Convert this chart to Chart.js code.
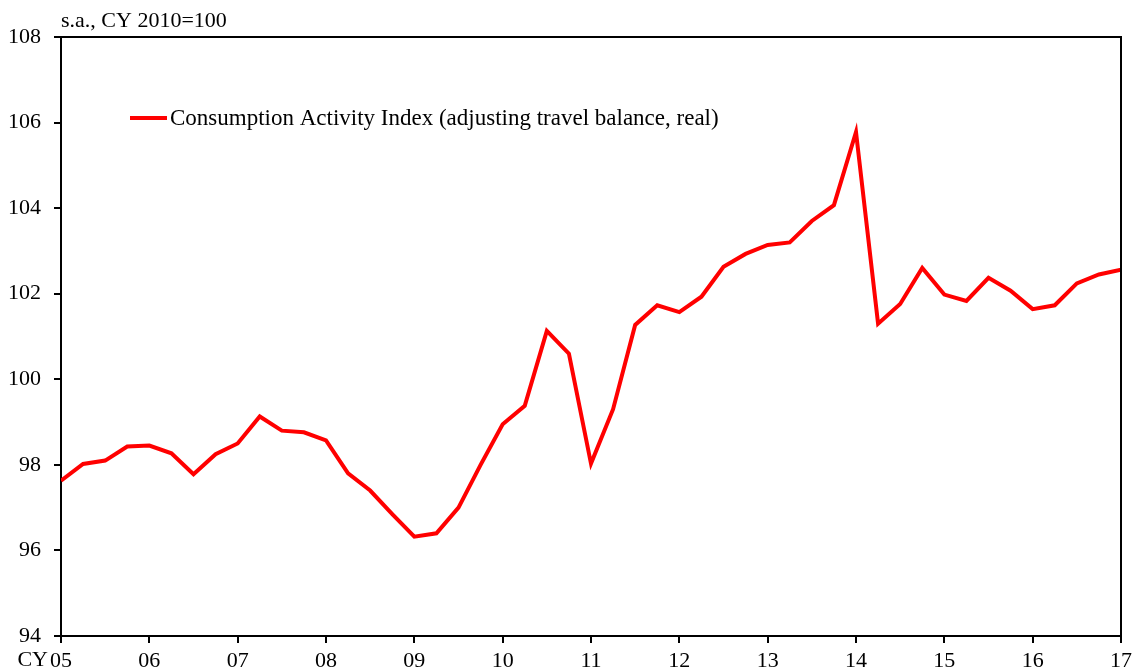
<!DOCTYPE html>
<html>
<head>
<meta charset="utf-8">
<script src="https://cdn.jsdelivr.net/npm/chart.js@4"></script>
<style>
    html, body { margin: 0; padding: 0; background: #fff; }
    #wrap { width: 1132px; height: 670px; }
</style>
</head>
<body>
<div id="wrap"><canvas id="consumptionChart" width="1132" height="670"></canvas></div>
<script>
// quarterly index, 2005Q1 .. 2017Q1
const startYear = 2005;
const consumption = [
    97.63, 98.02, 98.10, 98.43, 98.45, 98.27, 97.78, 98.25,
    98.50, 99.13, 98.80, 98.76, 98.57, 97.80, 97.40, 96.85,
    96.32, 96.40, 97.00, 98.00, 98.95, 99.38, 101.13, 100.60,
    98.03, 99.30, 101.27, 101.73, 101.57, 101.93, 102.63, 102.93,
    103.14, 103.20, 103.70, 104.07, 105.78, 101.30, 101.76, 102.60,
    101.98, 101.83, 102.37, 102.07, 101.64, 101.73, 102.24, 102.45,
    102.56
];
const seriesLabel = 'Consumption Activity Index (adjusting travel balance, real)';
const unitNote = 's.a., CY 2010=100';
const yTicks = [94, 96, 98, 100, 102, 104, 106, 108];

const FONT = '"Liberation Serif", "Times New Roman", serif';

// frame, unit note, inline legend, "CY" prefix
const extras = {
    id: 'extras',
    afterDraw(chart) {
        const { ctx, chartArea: a } = chart;
        ctx.save();
        ctx.strokeStyle = '#000';
        ctx.lineWidth = 2;
        ctx.beginPath();
        ctx.moveTo(a.left, a.top);
        ctx.lineTo(a.right, a.top);
        ctx.lineTo(a.right, a.bottom);
        ctx.stroke();

        ctx.fillStyle = '#000';
        ctx.font = '22px ' + FONT;
        ctx.textBaseline = 'middle';
        ctx.textAlign = 'left';
        ctx.fillText(unitNote, 61, 21);
        ctx.textAlign = 'right';
        ctx.fillText('CY', 48, 660);

        ctx.strokeStyle = '#ff0000';
        ctx.lineWidth = 4;
        ctx.beginPath();
        ctx.moveTo(130, 118);
        ctx.lineTo(167, 118);
        ctx.stroke();
        ctx.textAlign = 'left';
        ctx.font = '23px ' + FONT;
        ctx.fillText(seriesLabel, 170, 119);
        ctx.restore();
    }
};

new Chart(document.getElementById('consumptionChart').getContext('2d'), {
    type: 'line',
    data: {
        datasets: [{
            label: seriesLabel,
            data: consumption.map((v, i) => ({ x: startYear + i / 4, y: v })),
            borderColor: '#ff0000',
            borderWidth: 4,
            pointRadius: 0,
            tension: 0,
        }],
    },
    options: {
        responsive: false,
        animation: false,
        layout: { padding: { top: 37, right: 0, left: 0, bottom: 0 } },
        plugins: {
            legend: { display: false },
            tooltip: { enabled: false },
        },
        scales: {
            x: {
                type: 'linear',
                min: 2005,
                max: 2017,
                afterFit: s => { s.height = 34; s.paddingLeft = 0; s.paddingRight = 11; },
                border: { color: '#000', width: 2 },
                grid: { drawOnChartArea: false, drawTicks: true, tickLength: 7, color: '#000', lineWidth: 2 },
                ticks: {
                    stepSize: 1,
                    color: '#000',
                    font: { family: FONT, size: 22 },
                    padding: 5,
                    maxRotation: 0,
                    callback: v => String(v).slice(2),
                },
            },
            y: {
                min: 94,
                max: 108,
                afterFit: s => { s.width = 61; },
                afterBuildTicks: s => { s.ticks = yTicks.map(v => ({ value: v })); },
                border: { color: '#000', width: 2 },
                grid: { drawOnChartArea: false, drawTicks: true, tickLength: 7, color: '#000', lineWidth: 2 },
                ticks: {
                    color: '#000',
                    font: { family: FONT, size: 22 },
                    padding: 13,
                },
            },
        },
    },
    plugins: [extras],
});
</script>
</body>
</html>
